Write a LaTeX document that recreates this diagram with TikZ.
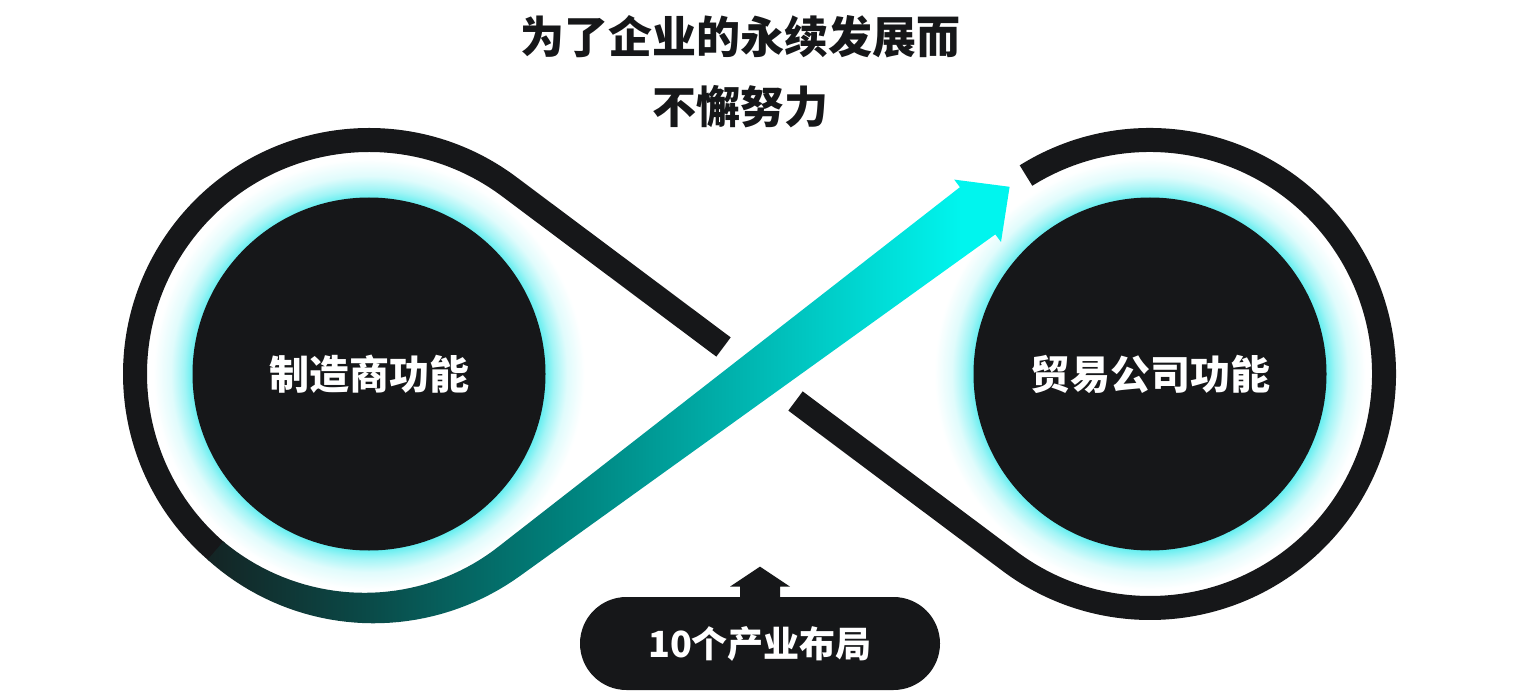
\documentclass[tikz,border=0pt]{standalone}
\usepackage{fontspec}
\setmainfont{Noto Sans CJK SC}
\usetikzlibrary{calc}
\definecolor{ink}{RGB}{22,23,25}
\definecolor{halocyan}{RGB}{100,238,240}
\definecolor{band0}{RGB}{20,36,36}
\definecolor{band1}{RGB}{10,74,72}
\definecolor{band2}{RGB}{0,128,123}
\definecolor{band3}{RGB}{0,202,197}
\definecolor{band4}{RGB}{0,245,238}
\pgfdeclarehorizontalshading{bandshade}{100bp}{color(0bp)=(band0); color(25bp)=(band0); color(35bp)=(band1); color(47bp)=(band2); color(63bp)=(band3); color(72bp)=(band4); color(100bp)=(band4)}
\pgfdeclareradialshading{haloshade}{\pgfpointorigin}{color(0bp)=(halocyan); color(20bp)=(halocyan); color(21bp)=(halocyan!60); color(22.5bp)=(halocyan!20); color(24.5bp)=(white); color(50bp)=(white)}

\begin{document}
\begin{tikzpicture}[x=0.5pt,y=0.5pt,
  hub/.style={circle,fill=ink,minimum size=176.5pt,inner sep=0pt,text=white,
    font=\fontsize{20pt}{24pt}\selectfont\bfseries},
  loopline/.style={draw=ink,line width=12pt},
  pill/.style={fill=ink,rounded corners=23.25pt,minimum width=180pt,minimum height=46.5pt,
    inner sep=0pt,text=white,font=\fontsize{18pt}{22pt}\selectfont\bfseries},
  motto/.style={text=ink,align=center,font=\fontsize{22pt}{35pt}\selectfont\bfseries}]
\useasboundingbox (0,0) rectangle (1520,692);

\coordinate (c1) at (369,318);
\coordinate (c2) at (1150,318);

% glow round the two hubs
\shade[shading=haloshade] (c1) circle[radius=110pt];
\shade[shading=haloshade] (c2) circle[radius=110pt];

% infinity loop
\draw[loopline] ($(c2)+(122:117pt)$) arc[start angle=122,end angle=-126.82,radius=117pt] -- (795.5,291);
\draw[loopline] (723.5,345) -- ($(c1)+(53.18:117pt)$) arc[start angle=53.18,end angle=229.5,radius=117pt];

% growth arrow
\shade[shading=bandshade]
  plot[domain=229:306.82,samples=40] ({369+(246+(\x-229)*0.07917)*cos(\x)},{318+(246+(\x-229)*0.07917)*sin(\x)})
  -- (995.3,457.6) -- (1001,450) -- (1009.6,505.2) -- (954.2,512.4) -- (959.9,504.8) -- (498.3,145.2)
  -- plot[domain=306.82:229,samples=40] ({369+(222-(\x-229)*0.07917)*cos(\x)},{318+(222-(\x-229)*0.07917)*sin(\x)})
  -- cycle;

\node[hub] (maker) at (c1) {制造商功能};
\node[hub] (trader) at (c2) {贸易公司功能};

\node[motto] (slogan) at (740,620) {为了企业的永续发展而\\不懈努力};

\node[pill] (layout) at (760,48.5) {\raisebox{-2pt}{10个产业布局}};
\fill[ink] (layout.north) ++(-20,-1) -- ++(0,11) -- ++(-10,0) -- ++(30,20) -- ++(30,-20) -- ++(-10,0) -- ++(0,-11) -- cycle;

\end{tikzpicture}
\end{document}
